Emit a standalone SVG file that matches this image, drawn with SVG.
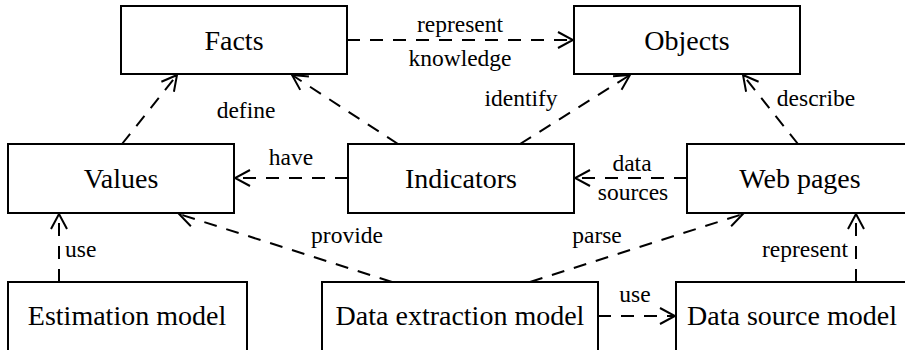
<svg xmlns="http://www.w3.org/2000/svg" width="905" height="350" viewBox="0 0 905 350">
<style>
.box{fill:#fff;stroke:#000;stroke-width:2}
.t{font-size:28px;fill:#000;text-anchor:middle}
.l{font-size:23.5px;fill:#000}
.c{fill:none;stroke:#000;stroke-width:2;stroke-dasharray:13 10;marker-end:url(#arr)}
</style>
<defs>
<marker id="arr" markerUnits="userSpaceOnUse" viewBox="-17 -10 19 20" refX="0" refY="0" markerWidth="19" markerHeight="20" orient="auto">
<path d="M-15,-8 L0,0 L-15,8" fill="none" stroke="#000" stroke-width="2"/>
</marker>
</defs>
<rect width="905" height="350" fill="#fff"/>
<g font-family="Liberation Serif, Tinos, DejaVu Serif, serif">
<g id="connectors">
<line class="c" x1="347" y1="40" x2="573" y2="40"/>
<line class="c" x1="122" y1="144" x2="177" y2="75"/>
<line class="c" x1="398" y1="144" x2="292" y2="75"/>
<line class="c" x1="348" y1="178" x2="235" y2="178"/>
<line class="c" x1="520" y1="144" x2="630" y2="75"/>
<line class="c" x1="798" y1="144" x2="743" y2="75"/>
<line class="c" x1="687" y1="178" x2="575" y2="178"/>
<line class="c" x1="59" y1="282" x2="59" y2="214"/>
<line class="c" x1="392" y1="282" x2="179" y2="214"/>
<line class="c" x1="530" y1="282" x2="743" y2="214"/>
<line class="c" x1="598" y1="316" x2="675" y2="316"/>
<line class="c" x1="856" y1="282" x2="856" y2="214"/>
<text class="l" x="460" y="32" text-anchor="middle">represent</text>
<text class="l" x="460" y="66" text-anchor="middle">knowledge</text>
<text class="l" x="246" y="118" text-anchor="middle">define</text>
<text class="l" x="291" y="165" text-anchor="middle">have</text>
<text class="l" x="521" y="106" text-anchor="middle">identify</text>
<text class="l" x="816" y="106" text-anchor="middle">describe</text>
<text class="l" x="632" y="171" text-anchor="middle">data</text>
<text class="l" x="633" y="200" text-anchor="middle">sources</text>
<text class="l" x="65" y="257">use</text>
<text class="l" x="347" y="243" text-anchor="middle">provide</text>
<text class="l" x="597" y="243" text-anchor="middle">parse</text>
<text class="l" x="635" y="302" text-anchor="middle">use</text>
<text class="l" x="848" y="257" text-anchor="end">represent</text>
</g>
<g id="facts"><rect class="box" x="121" y="6" width="226" height="68"/><text class="t" x="234" y="50">Facts</text></g>
<g id="objects"><rect class="box" x="574" y="6" width="226" height="68"/><text class="t" x="687" y="50">Objects</text></g>
<g id="values"><rect class="box" x="8" y="144" width="226" height="69"/><text class="t" x="121" y="188">Values</text></g>
<g id="indicators"><rect class="box" x="348" y="144" width="226" height="69"/><text class="t" x="461" y="188">Indicators</text></g>
<g id="webpages"><rect class="box" x="687" y="144" width="230" height="69"/><text class="t" x="800" y="188">Web pages</text></g>
<g id="estimation"><rect class="box" x="8" y="282" width="239" height="72"/><text class="t" x="127" y="325">Estimation model</text></g>
<g id="extraction"><rect class="box" x="322" y="282" width="276" height="72"/><text class="t" x="460" y="325">Data extraction model</text></g>
<g id="datasource"><rect class="box" x="676" y="282" width="236" height="72"/><text class="t" x="792" y="325">Data source model</text></g>
</g>
</svg>
